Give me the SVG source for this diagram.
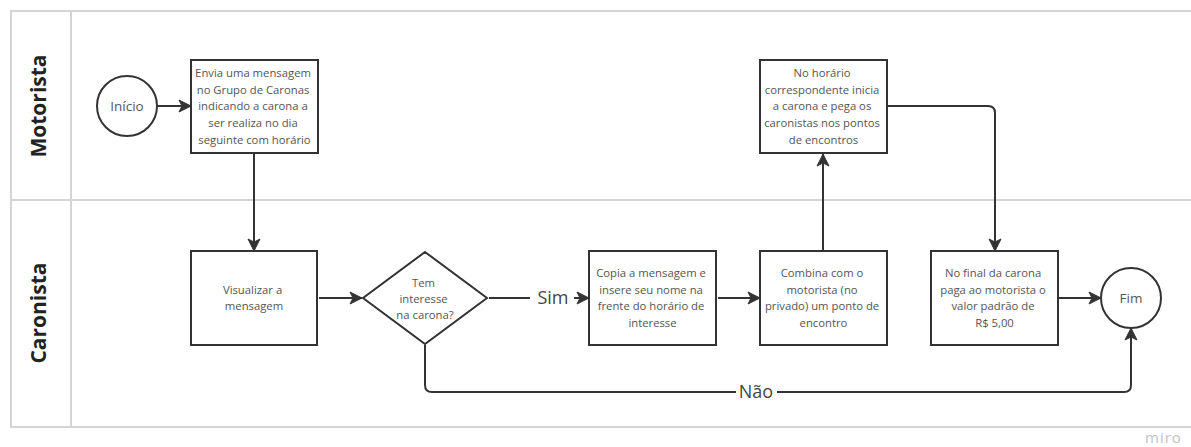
<svg xmlns="http://www.w3.org/2000/svg" width="1191" height="447" viewBox="0 0 1191 447">
  <style>
    .lane { fill: none; stroke: #d4d4d4; stroke-width: 2; }
    .lane-title { font-family: "Open Sans", "Liberation Sans", sans-serif; font-weight: bold; font-size: 21px; fill: #222; text-anchor: middle; }
    .shape { fill: #fff; stroke: #333; stroke-width: 2; }
    .txt { font-family: "Open Sans", "Liberation Sans", sans-serif; font-size: 11.3px; fill: #555; text-anchor: middle; }
    .term { font-family: "Open Sans", "Liberation Sans", sans-serif; font-size: 13.5px; fill: #555; text-anchor: middle; }
    .edge { fill: none; stroke: #333; stroke-width: 2; }
    .edge-label { font-family: "Open Sans", "Liberation Sans", sans-serif; font-size: 18px; fill: #444; text-anchor: middle; }
    .brand { font-family: "Open Sans", "Liberation Sans", sans-serif; font-size: 15px; fill: #c2c2c2; letter-spacing: 1px; }
  </style>
  <defs>
    <marker id="arrow" viewBox="0 0 14 14" refX="13" refY="7" markerWidth="14" markerHeight="14" markerUnits="userSpaceOnUse" orient="auto">
      <path d="M1,1 L13,7 L1,13 L4,7 z" fill="#333" stroke="#333" stroke-width="1" stroke-linejoin="round"/>
    </marker>
  </defs>
  <rect width="1191" height="447" fill="#fff"/>

  <!-- swimlanes -->
  <g id="lanes">
    <path class="lane" d="M1191,11 H11 V427 H1191 M71,11 V427 M11,200 H1191"/>
    <text class="lane-title" transform="translate(46,106) rotate(-90)">Motorista</text>
    <text class="lane-title" transform="translate(46,313) rotate(-90)">Caronista</text>
  </g>

  <!-- connectors -->
  <g id="connectors">
    <line class="edge" x1="157" y1="106" x2="191" y2="106" marker-end="url(#arrow)"/>
    <line class="edge" x1="254" y1="154" x2="254" y2="251" marker-end="url(#arrow)"/>
    <line class="edge" x1="319" y1="298" x2="362" y2="298" marker-end="url(#arrow)"/>
    <line class="edge" x1="489" y1="298" x2="530" y2="298"/>
    <text class="edge-label" x="553" y="304">Sim</text>
    <line class="edge" x1="574" y1="298" x2="589" y2="298" marker-end="url(#arrow)"/>
    <line class="edge" x1="718" y1="298" x2="760" y2="298" marker-end="url(#arrow)"/>
    <line class="edge" x1="823" y1="250" x2="823" y2="154" marker-end="url(#arrow)"/>
    <path class="edge" d="M888,106 H988 Q995,106 995,113 V251" marker-end="url(#arrow)"/>
    <line class="edge" x1="1059" y1="298" x2="1101" y2="298" marker-end="url(#arrow)"/>
    <path class="edge" d="M425,345 V385 Q425,392 432,392 H736 M777,392 H1124 Q1131,392 1131,385 V328" marker-end="url(#arrow)"/>
    <text class="edge-label" x="756" y="398">Não</text>
  </g>

  <g id="inicio">
    <circle class="shape" cx="127" cy="106" r="30"/>
    <text class="term" x="127" y="111">Início</text>
  </g>

  <g id="envia-mensagem">
    <rect class="shape" x="191" y="60" width="127" height="93"/>
    <text class="txt" y="77">
      <tspan x="254.5">Envia uma mensagem</tspan>
      <tspan x="254.5" dy="16.7">no Grupo de Caronas</tspan>
      <tspan x="254.5" dy="16.7">indicando a carona a</tspan>
      <tspan x="254.5" dy="16.7">ser realiza no dia</tspan>
      <tspan x="254.5" dy="16.7">seguinte com horário</tspan>
    </text>
  </g>

  <g id="visualizar">
    <rect class="shape" x="191" y="251" width="126" height="94"/>
    <text class="txt" y="293.5">
      <tspan x="254">Visualizar a</tspan>
      <tspan x="254" dy="16">mensagem</tspan>
    </text>
  </g>

  <g id="decisao-interesse">
    <polygon class="shape" points="425,252 487,298 425,344 363,298"/>
    <text class="txt" y="287">
      <tspan x="425">Tem</tspan>
      <tspan x="425" dy="16.2">interesse</tspan>
      <tspan x="425" dy="16.2">na carona?</tspan>
    </text>
  </g>

  <g id="copia-mensagem">
    <rect class="shape" x="589" y="251" width="127" height="94"/>
    <text class="txt" y="277">
      <tspan x="652.5">Copia a mensagem e</tspan>
      <tspan x="652.5" dy="16.5">insere seu nome na</tspan>
      <tspan x="652.5" dy="16.5">frente do horário de</tspan>
      <tspan x="652.5" dy="16.5">interesse</tspan>
    </text>
  </g>

  <g id="combina-encontro">
    <rect class="shape" x="760" y="251" width="127" height="94"/>
    <text class="txt" y="277">
      <tspan x="823.5">Combina com o</tspan>
      <tspan x="823.5" dy="16.5">motorista (no</tspan>
      <tspan x="823.5" dy="16.5">privado) um ponto de</tspan>
      <tspan x="823.5" dy="16.5">encontro</tspan>
    </text>
  </g>

  <g id="inicia-carona">
    <rect class="shape" x="760" y="60" width="127" height="93"/>
    <text class="txt" y="77">
      <tspan x="823.5">No horário</tspan>
      <tspan x="823.5" dy="16.7">correspondente inicia</tspan>
      <tspan x="823.5" dy="16.7">a carona e pega os</tspan>
      <tspan x="823.5" dy="16.7">caronistas nos pontos</tspan>
      <tspan x="823.5" dy="16.7">de encontros</tspan>
    </text>
  </g>

  <g id="pagamento">
    <rect class="shape" x="931" y="251" width="127" height="94"/>
    <text class="txt" y="277">
      <tspan x="994.5">No final da carona</tspan>
      <tspan x="994.5" dy="16.5">paga ao motorista o</tspan>
      <tspan x="994.5" dy="16.5">valor padrão de</tspan>
      <tspan x="994.5" dy="16.5">R$ 5,00</tspan>
    </text>
  </g>

  <g id="fim">
    <circle class="shape" cx="1131" cy="298" r="30"/>
    <text class="term" x="1131" y="303">Fim</text>
  </g>

  <text class="brand" x="1145" y="443">miro</text>
</svg>
